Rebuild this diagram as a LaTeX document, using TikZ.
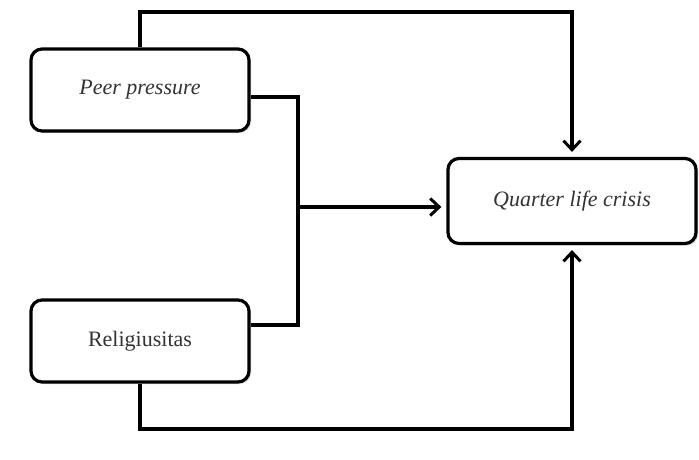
\documentclass[tikz,border=0pt]{standalone}
\usepackage{fontspec}
\setmainfont{Liberation Serif}
\usetikzlibrary{arrows.meta,shadows}

\begin{document}
\begin{tikzpicture}[x=1pt,y=-1pt]
		\tikzstyle{var}=[draw=black, line width=3.2pt, rounded corners=11pt, fill=white, text=black!80,
			minimum width=218pt, minimum height=82pt, inner sep=0pt, font=\fontsize{22}{25}\selectfont,
			drop shadow={opacity=0.3, shadow xshift=2pt, shadow yshift=-2pt}]
		\tikzstyle{conn}=[draw=black, line width=3.2pt, shorten >=5pt, -{Straight Barb[length=9pt,width=17pt,line width=3pt]}]
		\tikzstyle{link}=[draw=black, line width=3.2pt]
		\useasboundingbox (0,0) rectangle (699,460);
		\node [var] (peer) at (140,90) {\textit{Peer pressure}};
		\node [var] (relig) at (140,341) {Religiusitas};
		\node [var, minimum width=248pt, minimum height=85pt] (qlc) at (572,201) {\textit{Quarter life crisis}};
		\coordinate (mid) at (298,207);
		\draw [conn] (peer.north) -- (peer.north |- 0,12) -| (qlc.north);
		\draw [link] ([yshift=-7pt]peer.east) -- (298,97) |- ([yshift=16pt]relig.east);
		\draw [conn] (mid) -- ([yshift=-6pt]qlc.west);
		\draw [conn] (relig.south) -- (relig.south |- 0,429) -| (qlc.south);
	\end{tikzpicture}
\end{document}
